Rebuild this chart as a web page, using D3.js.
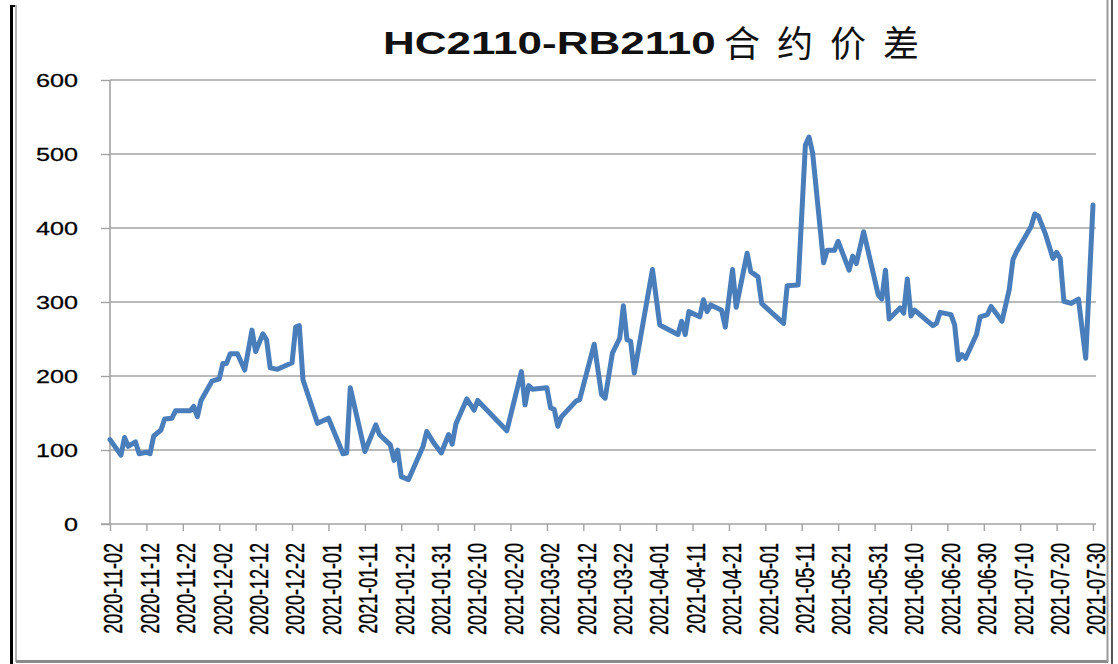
<!DOCTYPE html>
<html>
<head>
<meta charset="utf-8">
<script src="https://cdn.jsdelivr.net/npm/d3@7"></script>
<style>
  body { margin: 0; background: #fff; }
  svg { display: block; }
</style>
</head>
<body>
<div class="canvas"></div>
<script>
// HC2110-RB2110 spread, values
var dates = ["2020-11-02","2020-11-05","2020-11-06","2020-11-07","2020-11-09","2020-11-10","2020-11-12","2020-11-13","2020-11-14","2020-11-16",
  "2020-11-17","2020-11-19","2020-11-20","2020-11-24","2020-11-25","2020-11-26","2020-11-27","2020-11-30","2020-12-02","2020-12-03",
  "2020-12-04","2020-12-05","2020-12-07","2020-12-09","2020-12-11","2020-12-12","2020-12-14","2020-12-15","2020-12-16","2020-12-18",
  "2020-12-22","2020-12-23","2020-12-24","2020-12-25","2020-12-29","2021-01-01","2021-01-05","2021-01-06","2021-01-07","2021-01-11",
  "2021-01-14","2021-01-15","2021-01-18","2021-01-19","2021-01-20","2021-01-21","2021-01-23","2021-01-27","2021-01-28","2021-01-30",
  "2021-02-01","2021-02-03","2021-02-04","2021-02-05","2021-02-08","2021-02-10","2021-02-11","2021-02-19","2021-02-23","2021-02-24",
  "2021-02-25","2021-02-26","2021-03-02","2021-03-03","2021-03-04","2021-03-05","2021-03-06","2021-03-10","2021-03-11","2021-03-15",
  "2021-03-17","2021-03-18","2021-03-20","2021-03-22","2021-03-23","2021-03-24","2021-03-25","2021-03-26","2021-03-31","2021-04-02",
  "2021-04-07","2021-04-08","2021-04-09","2021-04-10","2021-04-13","2021-04-14","2021-04-15","2021-04-16","2021-04-19","2021-04-20",
  "2021-04-22","2021-04-23","2021-04-26","2021-04-27","2021-04-29","2021-04-30","2021-05-06","2021-05-07","2021-05-10","2021-05-12",
  "2021-05-13","2021-05-14","2021-05-17","2021-05-18","2021-05-20","2021-05-21","2021-05-24","2021-05-25","2021-05-26","2021-05-28",
  "2021-06-01","2021-06-02","2021-06-03","2021-06-04","2021-06-07","2021-06-08","2021-06-09","2021-06-10","2021-06-11","2021-06-16",
  "2021-06-17","2021-06-18","2021-06-21","2021-06-22","2021-06-23","2021-06-24","2021-06-25","2021-06-28","2021-06-29","2021-07-01",
  "2021-07-02","2021-07-05","2021-07-07","2021-07-08","2021-07-09","2021-07-13","2021-07-14","2021-07-15","2021-07-17","2021-07-19",
  "2021-07-20","2021-07-21","2021-07-22","2021-07-24","2021-07-26","2021-07-28","2021-07-30"]

var spread = [114,93,117,105,111,95,97,95,119,127,
  142,143,153,153,159,145,167,193,196,217,
  217,230,230,208,262,233,257,249,211,209,
  218,266,268,195,136,143,95,96,184,98,
  134,121,107,86,100,64,60,105,125,109,
  96,121,108,135,169,154,167,126,206,161,
  187,182,184,157,155,132,145,166,168,243,
  175,170,231,251,295,249,247,204,344,269,
  256,274,256,287,280,303,287,296,289,266,
  344,293,366,341,334,298,271,322,323,512,
  523,501,353,370,370,382,343,362,352,395,
  310,304,343,277,292,285,331,281,289,268,
  271,286,283,269,222,229,224,256,280,283,
  294,274,317,357,368,402,419,416,391,359,
  367,359,301,298,304,224,431]

var yTicks = [0, 100, 200, 300, 400, 500, 600]
var firstTick = "2020-11-02"
var tickCount = 28   // one label every 10 days
var titleLatin = "HC2110-RB2110"
var titleCjk = "合约价差"

var width = 1118, height = 664
var parse = d3.utcParse("%Y-%m-%d")
var fmt = d3.utcFormat("%Y-%m-%d")

var data = dates.map(function(d, i) { return {date: parse(d), value: spread[i]} })
var tickDates = d3.range(tickCount).map(function(i) { return d3.utcDay.offset(parse(firstTick), i * 10) })

var x = d3.scaleUtc()
    .domain([tickDates[0], tickDates[tickDates.length - 1]])
    .range([110, 1093])
var y = d3.scaleLinear().domain([0, 600]).range([524, 80])

var svg = d3.select(".canvas").append("svg")
    .attr("width", width)
    .attr("height", height)

var gridColor = "#a3a3a3"
var labelFont = "'Liberation Sans', Arial, sans-serif"

// horizontal grid lines
svg.append("g")
  .selectAll("line")
  .data(yTicks.filter(function(d) { return d > 0 }))
  .join("line")
    .attr("x1", 110).attr("x2", 1096)
    .attr("y1", function(d) { return y(d) }).attr("y2", function(d) { return y(d) })
    .attr("stroke", gridColor).attr("stroke-width", 1.4)

// y axis
var yAxis = svg.append("g")
    .attr("transform", "translate(110,0)")
    .call(d3.axisLeft(y).tickValues(yTicks).tickSize(9).tickFormat(d3.format("d")))
yAxis.select(".domain").attr("stroke", gridColor).attr("stroke-width", 1.6).attr("d", "M0," + y(600) + "V" + y(0))
yAxis.selectAll(".tick line").attr("stroke", gridColor).attr("stroke-width", 1.4)
yAxis.selectAll(".tick text")
    .attr("x", 0)
    .attr("dy", "0.35em")
    .attr("transform", "translate(-32,0) scale(1.4,1)")
    .attr("text-anchor", "end")
    .attr("fill", "#000")
    .attr("stroke", "#000").attr("stroke-width", 0.25)
    .style("font-family", labelFont)
    .style("font-size", "18px")

// x axis
var xAxis = svg.append("g")
    .attr("transform", "translate(0," + y(0) + ")")
    .call(d3.axisBottom(x).tickValues(tickDates).tickSize(7).tickFormat(fmt))
xAxis.select(".domain").attr("stroke", gridColor).attr("stroke-width", 1.6).attr("d", "M101,0H1096")
xAxis.selectAll(".tick line").attr("stroke", gridColor).attr("stroke-width", 1.4)
xAxis.selectAll(".tick text")
    .attr("y", 0)
    .attr("dy", "0.35em")
    .attr("transform", "translate(3,19) scale(1.4,1) rotate(-90)")
    .attr("text-anchor", "end")
    .attr("fill", "#000")
    .attr("stroke", "#000").attr("stroke-width", 0.3)
    .style("font-family", labelFont)
    .style("font-size", "18px")

// the spread line
var line = d3.line()
    .x(function(d) { return x(d.date) })
    .y(function(d) { return y(d.value) })

svg.append("path")
    .datum(data)
    .attr("fill", "none")
    .attr("stroke", "#4a7ebb")
    .attr("stroke-width", 5)
    .attr("stroke-linejoin", "round")
    .attr("stroke-linecap", "round")
    .attr("d", line)

// title
svg.append("text")
    .attr("transform", "translate(383,54) scale(1.42,1)")
    .style("font-family", labelFont)
    .style("font-weight", "bold")
    .style("font-size", "31px")
    .attr("fill", "#111")
    .text(titleLatin)
svg.append("text")
    .attr("x", 724).attr("y", 57)
    .style("font-family", "'Noto Sans CJK SC', sans-serif")
    .style("font-size", "36px")
    .style("letter-spacing", "17px")
    .attr("fill", "#111")
    .text(titleCjk)

// outer frame bits
svg.append("line").attr("x1", 11.5).attr("x2", 11.5).attr("y1", 5).attr("y2", 664).attr("stroke", "#000").attr("stroke-width", 3)
svg.append("line").attr("x1", 10).attr("x2", 15).attr("y1", 6).attr("y2", 6).attr("stroke", "#000").attr("stroke-width", 2)
svg.append("line").attr("x1", 16).attr("x2", 16).attr("y1", 5).attr("y2", 662).attr("stroke", "#b5b5b5").attr("stroke-width", 2)
svg.append("line").attr("x1", 16).attr("x2", 1108).attr("y1", 661.5).attr("y2", 661.5).attr("stroke", "#8a8a8a").attr("stroke-width", 3)
svg.append("line").attr("x1", 1107.5).attr("x2", 1107.5).attr("y1", 0).attr("y2", 662).attr("stroke", "#9a9a9a").attr("stroke-width", 2)
svg.append("line").attr("x1", 1112).attr("x2", 1112).attr("y1", 0).attr("y2", 664).attr("stroke", "#555").attr("stroke-width", 2)
</script>
</body>
</html>
